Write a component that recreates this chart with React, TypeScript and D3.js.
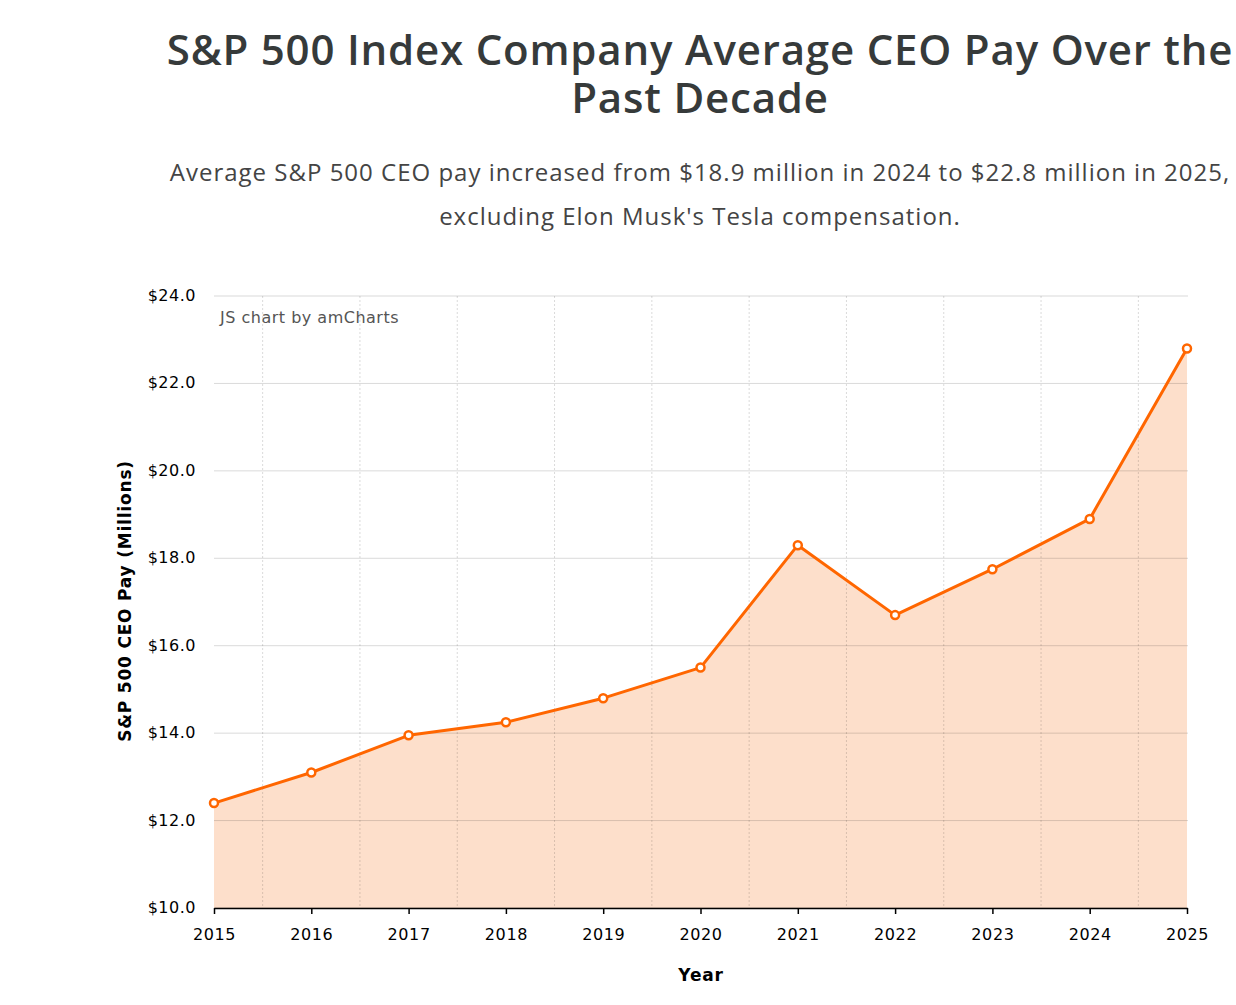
import React, { useEffect, useRef } from "react";
import * as d3 from "d3";

const years = [2015, 2016, 2017, 2018, 2019, 2020, 2021, 2022, 2023, 2024, 2025];
const avgPay = [12.4, 13.1, 13.95, 14.25, 14.8, 15.5, 18.3, 16.7, 17.75, 18.9, 22.8];
const yTicks = [10, 12, 14, 16, 18, 20, 22, 24];

const titleLines = [
  "S&P 500 Index Company Average CEO Pay Over the",
  "Past Decade",
];
const subtitleLines = [
  "Average S&P 500 CEO pay increased from $18.9 million in 2024 to $22.8 million in 2025,",
  "excluding Elon Musk's Tesla compensation.",
];

export default function App() {
  const ref = useRef<SVGSVGElement>(null);

  useEffect(() => {
    const svg = d3.select(ref.current);
    svg.selectAll("*").remove();

    const W = 1236;
    const H = 1005;
    const margin = { top: 296, right: 49, bottom: 97, left: 214 };
    const width = W - margin.left - margin.right;
    const height = H - margin.top - margin.bottom;

    const data = years.map((y, i) => ({ year: y, value: avgPay[i] }));

    const x = d3.scaleLinear().domain([2015, 2025]).range([0, width]);
    const y = d3.scaleLinear().domain([10, 24]).range([height, 0]);

    const axisFont = "'DejaVu Sans', Verdana, sans-serif";
    const headFont = "'Open Sans', 'Noto Sans', sans-serif";

    // title + subtitle
    svg
      .append("g")
      .selectAll("text")
      .data(titleLines)
      .join("text")
      .attr("x", 700)
      .attr("y", (_, i) => 65 + i * 48)
      .attr("text-anchor", "middle")
      .style("font-family", headFont)
      .style("font-size", "42px")
      .style("font-weight", 600)
      .style("letter-spacing", "0.8px")
      .attr("fill", "#363a3a")
      .text((d) => d);

    svg
      .append("g")
      .selectAll("text")
      .data(subtitleLines)
      .join("text")
      .attr("x", 700)
      .attr("y", (_, i) => 181 + i * 44)
      .attr("text-anchor", "middle")
      .style("font-family", headFont)
      .style("font-size", "24px")
      .style("letter-spacing", "1px")
      .attr("fill", "#444")
      .text((d) => d);

    const g = svg.append("g").attr("transform", `translate(${margin.left},${margin.top})`);

    // area fill
    const area = d3
      .area<{ year: number; value: number }>()
      .x((d) => x(d.year))
      .y0(height)
      .y1((d) => y(d.value));
    g.append("path").datum(data).attr("d", area).attr("fill", "#fddfcb");

    // horizontal grid
    g.append("g")
      .selectAll("line")
      .data(yTicks)
      .join("line")
      .attr("x1", 0)
      .attr("x2", width + 1)
      .attr("y1", (d) => y(d))
      .attr("y2", (d) => y(d))
      .attr("stroke", "#000")
      .attr("stroke-opacity", 0.15);

    // vertical dashed grid between years
    const mids = years.slice(0, -1).map((d) => d + 0.5);
    g.append("g")
      .selectAll("line")
      .data(mids)
      .join("line")
      .attr("x1", (d) => x(d))
      .attr("x2", (d) => x(d))
      .attr("y1", 0)
      .attr("y2", height)
      .attr("stroke", "#000")
      .attr("stroke-opacity", 0.15)
      .attr("stroke-dasharray", "2,2");

    // y axis labels
    g.append("g")
      .selectAll("text")
      .data(yTicks)
      .join("text")
      .attr("x", -18)
      .attr("y", (d) => y(d) + 5)
      .attr("text-anchor", "end")
      .style("font-family", axisFont)
      .style("font-size", "16px")
      .style("letter-spacing", "0.5px")
      .attr("fill", "#000")
      .text((d) => `$${d.toFixed(1)}`);

    // x axis
    const xAxis = g
      .append("g")
      .attr("transform", `translate(0,${height})`)
      .call(
        d3
          .axisBottom(x)
          .tickValues(years)
          .tickFormat((d) => String(d))
          .tickSize(6)
          .tickSizeOuter(0)
      );
    xAxis.select(".domain").attr("stroke", "#000").attr("stroke-width", 1.5);
    xAxis.selectAll(".tick line").attr("stroke", "#000").attr("stroke-width", 1.5);
    xAxis
      .selectAll(".tick text")
      .attr("y", 21)
      .attr("dy", "0.71em")
      .style("font-family", axisFont)
      .style("font-size", "16px")
      .style("letter-spacing", "0.6px")
      .attr("fill", "#000");

    // line
    const line = d3
      .line<{ year: number; value: number }>()
      .x((d) => x(d.year))
      .y((d) => y(d.value));
    g.append("path")
      .datum(data)
      .attr("d", line)
      .attr("fill", "none")
      .attr("stroke", "#ff6600")
      .attr("stroke-width", 3)
      .attr("stroke-linejoin", "round");

    g.append("g")
      .selectAll("circle")
      .data(data)
      .join("circle")
      .attr("cx", (d) => x(d.year))
      .attr("cy", (d) => y(d.value))
      .attr("r", 4)
      .attr("fill", "#fff")
      .attr("stroke", "#ff6600")
      .attr("stroke-width", 2.5);

    // watermark
    g.append("text")
      .attr("x", 6)
      .attr("y", 27)
      .style("font-family", axisFont)
      .style("font-size", "16px")
      .style("letter-spacing", "0.5px")
      .attr("fill", "#555")
      .text("JS chart by amCharts");

    // axis titles
    svg
      .append("text")
      .attr("transform", `translate(131,${margin.top + height / 2 - 1}) rotate(-90)`)
      .attr("text-anchor", "middle")
      .style("font-family", axisFont)
      .style("font-size", "17px")
      .style("font-weight", "bold")
      .style("letter-spacing", "0.8px")
      .attr("fill", "#000")
      .text("S&P 500 CEO Pay (Millions)");

    svg
      .append("text")
      .attr("x", 701)
      .attr("y", 981)
      .attr("text-anchor", "middle")
      .style("font-family", axisFont)
      .style("font-size", "17px")
      .style("font-weight", "bold")
      .style("letter-spacing", "0.8px")
      .attr("fill", "#000")
      .text("Year");
  }, []);

  return (
    <svg
      ref={ref}
      width={1236}
      height={1005}
      style={{ position: "absolute", left: 0, top: 0, background: "#fff" }}
    />
  );
}
